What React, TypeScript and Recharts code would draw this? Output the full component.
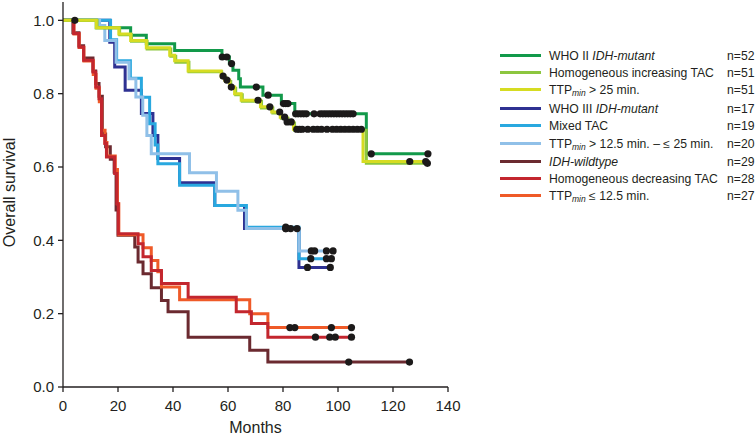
import React from 'react';
import { ComposedChart, Line, XAxis, YAxis, Label } from 'recharts';

type Step = [number, number];

// ---- step points [months, survival] and censor times ----
const greenSteps: Step[] = [[0,1],[12.1,0.98],[24.6,0.959],[30.3,0.936],[40.6,0.918],[57.8,0.9],[60.5,0.882],[61.8,0.864],[63.9,0.841],[64.5,0.818],[72.7,0.796],[79.4,0.773],[84.3,0.745],[110.3,0.636]];
const greenCens: number[] = [4.3,57.9,59.6,61.3,70.3,74.6,80.2,81,81.8,84.6,85.5,86.5,87.5,88.5,91.3,93.5,94.5,95.5,96.5,97.5,98.5,99.5,100.5,101.5,102.5,103.5,104.5,105.5,112.1,132.7];

const lightGreenSteps: Step[] = [[0,1],[12.4,0.98],[20.6,0.961],[24.9,0.943],[30.6,0.922],[39.2,0.902],[41,0.886],[45.8,0.86],[57.7,0.845],[59.2,0.833],[61,0.815],[62.8,0.797],[65.2,0.779],[72.2,0.761],[76.3,0.747],[79.4,0.733],[81.8,0.72],[84.2,0.7],[110.3,0.61]];
const lightGreenCens: number[] = [132.5];

const yellowSteps: Step[] = [[0,1],[12.1,0.98],[20.3,0.963],[24.6,0.945],[30.3,0.925],[38.8,0.905],[40.6,0.89],[45.5,0.862],[57.5,0.848],[58.8,0.837],[60.6,0.818],[62.4,0.8],[64.8,0.782],[71.8,0.764],[75.9,0.75],[79,0.736],[81.4,0.723],[83.8,0.703],[109.1,0.615]];
const yellowCens: number[] = [58.2,59.6,61.2,70.9,75.2,78.8,80.6,81.5,83,85,86,87,89,91,92.5,94,96,98,99.5,101,102.5,104,105.5,107,108.5,126.1,131.9];

const navySteps: Step[] = [[0,1],[17,0.94],[18.8,0.873],[22.6,0.809],[28.5,0.746],[32.7,0.686],[34.5,0.623],[42.4,0.557],[55.2,0.495],[66,0.432],[85.8,0.326]];
const navyCens: number[] = [81,88.9,97.2];

const midBlueSteps: Step[] = [[0,1],[17.3,0.947],[19.5,0.89],[24.5,0.842],[28.5,0.79],[31.5,0.718],[33.5,0.66],[34.5,0.609],[42.4,0.55],[55.2,0.495],[66.7,0.436],[85.8,0.35]];
const midBlueCens: number[] = [81,90.1,95.8,97.6];

const lightBlueSteps: Step[] = [[0,1],[13.3,0.986],[15.2,0.945],[19.3,0.886],[24,0.841],[26.5,0.791],[29,0.741],[30.5,0.686],[32.1,0.636],[46,0.584],[55.8,0.534],[63.6,0.482],[66.7,0.432],[85.8,0.371]];
const lightBlueCens: number[] = [81,82.8,85.1,90.3,91.5,95.8,98.2];

const maroonSteps: Step[] = [[0,1],[3.6,0.966],[5.8,0.931],[7.5,0.897],[10.9,0.862],[11.9,0.828],[13.1,0.793],[14.3,0.69],[15.5,0.655],[17.2,0.621],[18.6,0.586],[19.3,0.483],[20,0.414],[26.1,0.382],[27.3,0.341],[29.1,0.309],[32.1,0.271],[35.8,0.236],[38.2,0.205],[45.5,0.136],[67.9,0.1],[74.5,0.068]];
const maroonCens: number[] = [103.9,126];

const redSteps: Step[] = [[0,1],[3.9,0.964],[5.8,0.927],[7.5,0.891],[10.9,0.859],[11.9,0.818],[13.1,0.786],[14,0.686],[15.2,0.664],[15.8,0.627],[18.8,0.582],[19.6,0.5],[20.1,0.418],[27.3,0.391],[29.1,0.355],[32.1,0.318],[35.8,0.282],[45.5,0.245],[63,0.205],[68.5,0.173],[74.5,0.136]];
const redCens: number[] = [91.8,97,99,104.9];

const orangeSteps: Step[] = [[0,1],[4,0.963],[5.9,0.926],[7.6,0.889],[11,0.852],[12,0.815],[13.2,0.778],[14.1,0.7],[15.3,0.667],[16,0.63],[19,0.593],[19.8,0.5],[20.3,0.415],[29.1,0.38],[32.1,0.345],[34.5,0.314],[35.8,0.273],[42.4,0.238],[67.9,0.2],[74.5,0.162]];
const orangeCens: number[] = [82.5,84.3,97.6,104.9];

const xTicks = [0, 20, 40, 60, 80, 100, 120, 140];
const yTicks = [0, 0.2, 0.4, 0.6, 0.8, 1.0];

type Seg = { t: string; i?: boolean; sub?: boolean };
const legendLabels: Seg[][] = [
  [{ t: 'WHO II ' }, { t: 'IDH-mutant', i: true }],
  [{ t: 'Homogeneous increasing TAC' }],
  [{ t: 'TTP' }, { t: 'min', sub: true }, { t: ' > 25 min.' }],
  [{ t: 'WHO III ' }, { t: 'IDH-mutant', i: true }],
  [{ t: 'Mixed TAC' }],
  [{ t: 'TTP' }, { t: 'min', sub: true }, { t: ' > 12.5 min. \u2013 \u2264 25 min.' }],
  [{ t: 'IDH-wildtype', i: true }],
  [{ t: 'Homogeneous decreasing TAC' }],
  [{ t: 'TTP' }, { t: 'min', sub: true }, { t: ' \u2264 12.5 min.' }],
];
const legendN = ['n=52', 'n=51', 'n=51', 'n=17', 'n=19', 'n=20', 'n=29', 'n=28', 'n=27'];
const legendY = [56, 73, 90, 109, 126, 144, 162, 179, 196];

const C = {
  green: '#12994a', lightGreen: '#8cc63f', yellow: '#d6dc22',
  navy: '#2e3192', midBlue: '#29a8df', lightBlue: '#90c0e8',
  maroon: '#6b2a30', red: '#c3262e', orange: '#ef5a28',
};
const legendColors = [C.green, C.lightGreen, C.yellow, C.navy, C.midBlue, C.lightBlue, C.maroon, C.red, C.orange];

function build(steps: Step[], cens: number[]) {
  const times = Array.from(new Set([...steps.map((s) => s[0]), ...cens])).sort((a, b) => a - b);
  const cs = new Set(cens);
  return times.map((t) => {
    let v = steps[0][1];
    for (const [st, sv] of steps) if (st <= t) v = sv;
    return { t, s: v, c: cs.has(t) };
  });
}

const series = [
  { key: 'maroon', color: C.maroon, data: build(maroonSteps, maroonCens) },
  { key: 'orange', color: C.orange, data: build(orangeSteps, orangeCens) },
  { key: 'red', color: C.red, data: build(redSteps, redCens) },
  { key: 'navy', color: C.navy, data: build(navySteps, navyCens) },
  { key: 'midBlue', color: C.midBlue, data: build(midBlueSteps, midBlueCens) },
  { key: 'lightBlue', color: C.lightBlue, data: build(lightBlueSteps, lightBlueCens) },
  { key: 'green', color: C.green, data: build(greenSteps, greenCens) },
  { key: 'lightGreen', color: C.lightGreen, data: build(lightGreenSteps, lightGreenCens) },
  { key: 'yellow', color: C.yellow, data: build(yellowSteps, yellowCens) },
];

const CensorDot = (props: any) => {
  const { cx, cy, payload, index } = props;
  if (!payload || !payload.c || cx == null || cy == null) return <g key={`n${index}`} />;
  return <circle key={`c${index}`} cx={cx} cy={cy} r={3.6} fill="#1c1a1a" />;
};

const renderYLabel = (props: any) => {
  const vb = props.viewBox || { x: 0, y: 2, width: 63, height: 385 };
  const x = vb.x + 15;
  const y = vb.y + vb.height / 2 - 2;
  return (
    <text x={x} y={y} transform={`rotate(-90, ${x}, ${y})`} textAnchor="middle" fontSize={16} fill="#231f20" fontFamily="'Liberation Sans', Arial, sans-serif">
      Overall survival
    </text>
  );
};

const FONT = "'Liberation Sans', Arial, Helvetica, sans-serif";
const AX = '#231f20';

export default function App() {
  return (
    <div style={{ position: 'absolute', left: 0, top: 0, width: 756, height: 437, background: '#fff', fontFamily: FONT }}>
      <ComposedChart width={756} height={437} margin={{ top: 2, right: 308, bottom: 0, left: 0 }}>
        <XAxis
          type="number"
          dataKey="t"
          domain={[0, 140]}
          ticks={xTicks}
          allowDuplicatedCategory={false}
          height={50}
          tickSize={5}
          tickMargin={8}
          axisLine={{ stroke: AX, strokeWidth: 1.3 }}
          tickLine={{ stroke: AX, strokeWidth: 1.3 }}
          tick={{ fontSize: 15, fill: AX, fontFamily: FONT }}
          label={{ value: 'Months', position: 'insideBottom', offset: 4, fontSize: 16, fill: AX, fontFamily: FONT }}
        />
        <YAxis
          type="number"
          dataKey="s"
          domain={[0, 1.05]}
          ticks={yTicks}
          tickFormatter={(v: number) => v.toFixed(1)}
          width={63}
          tickSize={5}
          tickMargin={4}
          axisLine={{ stroke: AX, strokeWidth: 1.3 }}
          tickLine={{ stroke: AX, strokeWidth: 1.3 }}
          tick={{ fontSize: 15, fill: AX, fontFamily: FONT }}
          label={<Label content={renderYLabel} />}
        />
        {series.map((s) => (
          <Line
            key={s.key}
            data={s.data}
            dataKey="s"
            type="stepAfter"
            stroke={s.color}
            strokeWidth={3}
            dot={false}
            activeDot={false}
            isAnimationActive={false}
            strokeLinejoin="miter"
          />
        ))}
        {series.map((s) => (
          <Line
            key={s.key + '-dots'}
            data={s.data}
            dataKey="s"
            type="stepAfter"
            stroke="none"
            strokeWidth={0}
            dot={CensorDot}
            activeDot={false}
            isAnimationActive={false}
          />
        ))}
      </ComposedChart>
      {legendLabels.map((segs, i) => (
        <div key={i} style={{ position: 'absolute', left: 0, top: legendY[i] - 8, height: 16, width: 756 }}>
          <div style={{ position: 'absolute', left: 500, top: 6, width: 41, height: 3.4, background: legendColors[i] }} />
          <div style={{ position: 'absolute', left: 549, top: 0, fontSize: 12.2, lineHeight: '16px', color: AX, whiteSpace: 'nowrap' }}>
            {segs.map((g, k) =>
              g.sub ? (
                <span key={k} style={{ fontSize: 8.5, fontStyle: 'italic', position: 'relative', top: 1.5 }}>{g.t}</span>
              ) : (
                <span key={k} style={{ fontStyle: g.i ? 'italic' : 'normal', whiteSpace: 'pre' }}>{g.t}</span>
              )
            )}
          </div>
          <div style={{ position: 'absolute', left: 727, top: 0, fontSize: 12.2, lineHeight: '16px', color: AX }}>{legendN[i]}</div>
        </div>
      ))}
    </div>
  );
}
